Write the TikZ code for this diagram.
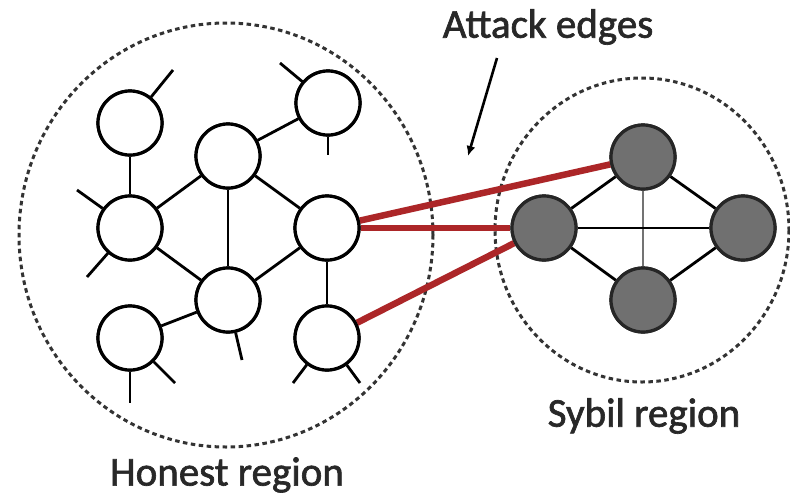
\documentclass[tikz,border=0pt]{standalone}
\usepackage{fontspec}
\setmainfont{Carlito}[FakeBold=1.6]
\usetikzlibrary{arrows.meta}
\definecolor{sybilgray}{RGB}{112,112,112}
\definecolor{attackred}{RGB}{172,38,40}
\definecolor{labeltext}{RGB}{40,40,40}
\begin{document}
\begin{tikzpicture}[x=1pt,y=-1pt,
  honest/.style={circle,draw=black,line width=3.2pt,fill=white,minimum size=64pt,inner sep=0pt},
  sybil/.style={circle,draw=black!85,line width=3.2pt,fill=sybilgray,minimum size=64pt,inner sep=0pt},
  link/.style={line width=2.8pt,black},
  attack/.style={line width=6.5pt,attackred},
  region/.style={line width=3pt,dash pattern=on 4.5pt off 3.5pt,black!80},
  caption/.style={text=labeltext,font=\fontsize{41}{45}\selectfont,inner sep=0pt}]
\useasboundingbox (0,0) rectangle (790,496);
\fill[white] (0,0) rectangle (790,496);

% region boundaries
\draw[region] (226,235) ellipse [x radius=207,y radius=212];
\draw[region] (642,230) ellipse [x radius=147,y radius=152];

% honest nodes
\node[honest] (A) at (130,123) {};
\node[honest] (B) at (328,103) {};
\node[honest] (C) at (228,156) {};
\node[honest] (D) at (130,228) {};
\node[honest] (E) at (327,228) {};
\node[honest] (F) at (228,300) {};
\node[honest] (G) at (130,338) {};
\node[honest] (H) at (327,338) {};

% sybil nodes
\node[sybil] (S1) at (643,157) {};
\node[sybil] (S2) at (544,228) {};
\node[sybil] (S3) at (743,228) {};
\node[sybil] (S4) at (643,300) {};

% free ends of edges leaving the picture
\coordinate (a1) at (173,70);
\coordinate (b1) at (280,63);
\coordinate (b2) at (328,155);
\coordinate (d1) at (77,190);
\coordinate (d2) at (87,277);
\coordinate (f1) at (242,360);
\coordinate (g1) at (130,403);
\coordinate (g2) at (175,383);
\coordinate (h1) at (293,383);
\coordinate (h2) at (360,383);

% honest edges
\draw[link] (A) -- (D);
\draw[link] (B) -- (C);
\draw[link] (C) -- (D);
\draw[link] (C) -- (E);
\draw[link] (C) -- (F);
\draw[link] (D) -- (F);
\draw[link] (E) -- (F);
\draw[link] (E) -- (H);
\draw[link] (F) -- (G);
\draw[link] (A) -- (a1);
\draw[link] (B) -- (b1);
\draw[link] (B) -- (b2);
\draw[link] (D) -- (d1);
\draw[link] (D) -- (d2);
\draw[link] (F) -- (f1);
\draw[link] (G) -- (g1);
\draw[link] (G) -- (g2);
\draw[link] (H) -- (h1);
\draw[link] (H) -- (h2);

% sybil edges
\draw[link] (S1) -- (S2);
\draw[link] (S1) -- (S3);
\draw[link,black!55] (S1) -- (S4);
\draw[link] (S2) -- (S3);
\draw[link] (S2) -- (S4);
\draw[link] (S3) -- (S4);

% attack edges
\draw[attack] (E) -- (S1);
\draw[attack] (E) -- (S2);
\draw[attack] (H) -- (S2);

% redraw nodes on top of edges
\foreach \n in {A,B,C,D,E,F,G,H}{\node[honest] at (\n) {};}
\foreach \n in {S1,S2,S3,S4}{\node[sybil] at (\n) {};}

% labels
\node[caption] (attacklbl) at (548,27) {Attack edges};
\coordinate (arrowtip) at (468,156);
\draw[line width=2.6pt,-{Latex[length=10pt,width=9pt]}] (497,58) -- (arrowtip);
\node[caption] (honestlbl) at (227,475) {Honest region};
\node[caption] (sybillbl) at (644,416) {Sybil region};
\end{tikzpicture}
\end{document}
